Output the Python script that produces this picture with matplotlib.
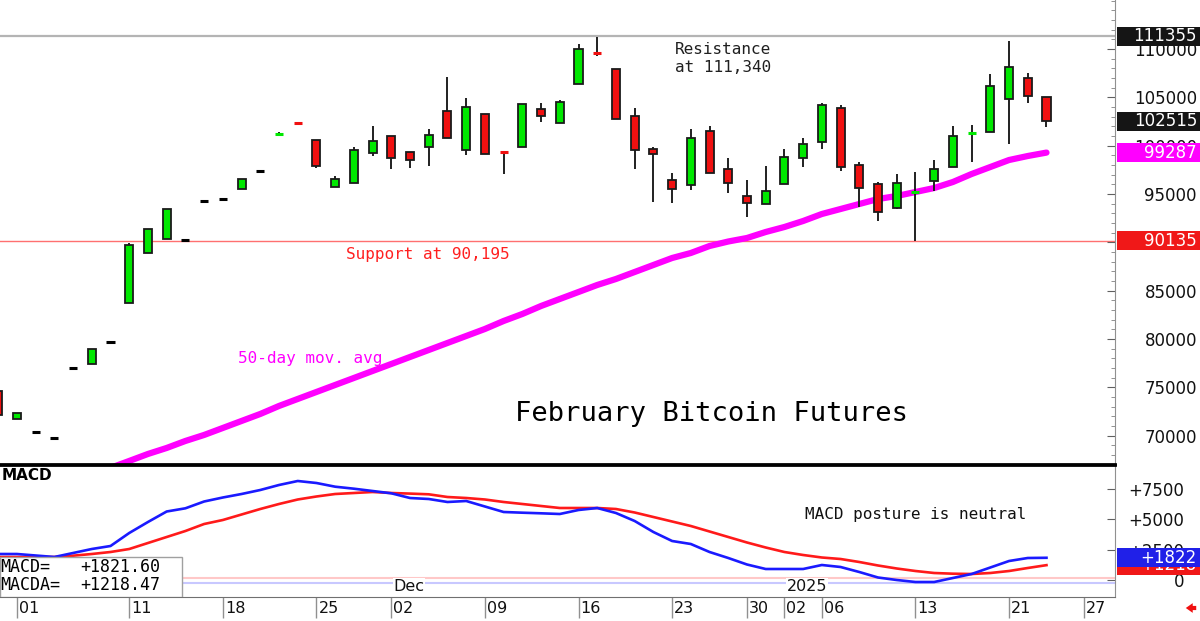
import numpy as np
import matplotlib
matplotlib.use('Agg')
import matplotlib.pyplot as plt
import matplotlib.transforms as mtransforms
from matplotlib.patches import Rectangle
from matplotlib.ticker import MultipleLocator, FuncFormatter, FixedLocator

plt.rcParams['font.family'] = ['DejaVu Sans']
MONO = ['DejaVu Sans Mono']

#------------------------------------------------------------------------------
# daily candles, Feb Bitcoin futures (one per trading day, index 0 = Oct 31)
opens  = [74610, 71680, 70366, 69776, 77022, 77405, 79650, 83749, 88862, 90311,
          90239, 94306, 94482, 95548, 97339, 101150, 102350, 100557, 95755, 96138,
          99243, 100971, 99316, 99895, 103590, 99522, 103249, 99450, 99853, 103797,
          102379, 106415, 109697, 107937, 103042, 99688, 96418, 95962, 101489, 97556,
          94792, 93934, 96066, 98726, 100382, 103900, 98001, 96004, 93582, 95150,
          96376, 97763, 101230, 101448, 104801, 106975, 105008]
highs  = [74610, 72300, 70366, 69776, 77022, 78957, 79650, 89959, 91377, 93447,
          90239, 94306, 94482, 96521, 97339, 101417, 102350, 100557, 96863, 99864,
          102037, 100971, 99316, 101696, 107078, 104936, 103249, 99450, 104367, 104449,
          104698, 110525, 111280, 107937, 103932, 99833, 97204, 101727, 101997, 98694,
          96449, 97898, 99657, 100827, 104449, 104242, 98312, 96273, 97039, 97277,
          98519, 102007, 102172, 107420, 110835, 107492, 105008]
lows   = [72126, 71680, 70366, 69776, 77022, 77405, 79650, 83749, 88862, 90311,
          90239, 94306, 94482, 95548, 97339, 101150, 102280, 97722, 95755, 96138,
          98964, 97587, 97659, 97898, 100826, 99067, 99171, 97039, 99853, 102482,
          102379, 106415, 109314, 102793, 97556, 94140, 94037, 95414, 97204, 95134,
          92650, 93934, 96066, 97825, 99688, 97349, 93685, 92236, 93447, 90166,
          95310, 97763, 98281, 101448, 100206, 104387, 101965]
closes = [72126, 72300, 70366, 69776, 77022, 78957, 79650, 89752, 91377, 93447,
          90239, 94306, 94482, 96521, 97339, 101250, 102280, 97929, 96521, 99522,
          100454, 98726, 98550, 101106, 100826, 103973, 99171, 99171, 104367, 103042,
          104522, 109976, 109490, 102793, 99522, 99171, 95548, 100796, 97204, 96107,
          94099, 95279, 98860, 100143, 104180, 97825, 95652, 93168, 96138, 95210,
          97556, 100971, 101330, 106146, 108113, 105174, 102515]

# 50-day moving average, starts at candle 6
ma_start = 6
ma50 = [66650, 67365, 68089, 68710, 69435, 70056, 70780, 71505, 72229, 73057,
        73782, 74506, 75231, 75955, 76680, 77404, 78129, 78853, 79578, 80302,
        81027, 81855, 82579, 83407, 84132, 84856, 85581, 86202, 86926, 87651,
        88375, 88893, 89617, 90083, 90446, 91067, 91584, 92205, 92930, 93447,
        93965, 94482, 94793, 95207, 95621, 96242, 97070, 97794, 98519, 98933, 99287]

macd = [2132, 2132, 2009, 1886, 2214, 2542, 2788, 3854, 4756, 5617,
        5879, 6437, 6765, 7052, 7380, 7790, 8118, 7954, 7651, 7487,
        7298, 7109, 6724, 6642, 6396, 6478, 6027, 5576, 5519, 5469,
        5412, 5740, 5904, 5494, 4838, 3936, 3198, 2952, 2296, 1804,
        1271, 902, 902, 902, 1230, 1066, 656, 205, 0, -164,
        -164, 164, 492, 1025, 1558, 1804, 1822]
macd_avg = [1886, 1886, 1886, 1886, 1993, 2132, 2296, 2542, 3034, 3526,
            4018, 4592, 4920, 5371, 5822, 6232, 6601, 6847, 7052, 7134,
            7216, 7134, 7085, 7027, 6806, 6724, 6601, 6396, 6232, 6068,
            5904, 5904, 5904, 5822, 5535, 5166, 4797, 4428, 3977, 3526,
            3075, 2665, 2296, 2050, 1845, 1722, 1476, 1189, 943, 738,
            574, 517, 492, 574, 738, 984, 1218]

date_idx = [1, 7, 12, 17, 21, 26, 31, 36, 40, 42, 44, 49, 54, 58]
date_lbl = ['01', '11', '18', '25', '02', '09', '16', '23', '30', '02', '06', '13', '21', '27']
month_idx = [21, 42]
month_lbl = ['Dec', '2025']

resistance = 111355
support = 90135
last_close = 102515
last_ma = 99287
macd_last = 1821.60
avg_last = 1218.47

#------------------------------------------------------------------------------
W, H = 1200, 621
fig = plt.figure(figsize=(W / 100, H / 100), dpi=100)
ax = fig.add_axes([0, 1 - 464 / H, 1115 / W, 464 / H])
ax2 = fig.add_axes([0, 1 - 597 / H, 1115 / W, 132 / H])

xlim = (0.096, 59.66)
ax.set_xlim(*xlim)
ax.set_ylim(67050, 115083)
ax2.set_xlim(*xlim)
ax2.set_ylim(-1394, 9430)

GREEN, RED = '#00e800', '#f01010'
bw = 0.43
for i, (o, h, l, c) in enumerate(zip(opens, highs, lows, closes)):
    col = 'black' if c == o else (GREEN if c > o else RED)
    if h > max(o, c) or l < min(o, c):
        ax.vlines(i, l, h, color='#202020', lw=1.4, zorder=2)
    if abs(c - o) < 300:
        ax.hlines((o + c) / 2, i - bw / 2, i + bw / 2, color=col, lw=2.2, zorder=3)
    else:
        ax.add_patch(Rectangle((i - bw / 2, min(o, c)), bw, abs(c - o), fc=col,
                               ec='#1a1a1a', lw=1.3, zorder=3))

ax.plot(np.arange(ma_start, ma_start + len(ma50)), ma50, color='#ff00ff', lw=4.5,
        solid_capstyle='round', zorder=1.5)
ax.axhline(resistance, color='#b4b4b4', lw=1.6, zorder=1)
ax.axhline(support, color='#ff7070', lw=1.0, zorder=1)

ax.text(675 / 1115, 1 - 50 / 464, 'Resistance', transform=ax.transAxes, family=MONO,
        fontsize=11.5, color='#202020', va='center')
ax.text(675 / 1115, 1 - 67 / 464, 'at 111,340', transform=ax.transAxes, family=MONO,
        fontsize=11.5, color='#202020', va='center')
ax.text(346 / 1115, 1 - 255 / 464, 'Support at 90,195', transform=ax.transAxes,
        family=MONO, fontsize=11.5, color='#ff2020', va='center')
ax.text(238 / 1115, 1 - 359 / 464, '50-day mov. avg', transform=ax.transAxes,
        family=MONO, fontsize=11.5, color='#ff00ff', va='center')
ax.text(515 / 1115, 1 - 414 / 464, 'February Bitcoin Futures', transform=ax.transAxes,
        family=MONO, fontsize=19.5, color='black', va='center')

# price axis on the right
ax.yaxis.tick_right()
ax.yaxis.set_major_locator(FixedLocator(np.arange(70000, 110001, 5000)))
ax.yaxis.set_minor_locator(MultipleLocator(1000))
ax.tick_params(axis='y', which='major', direction='in', length=6, color='#606060',
               labelsize=12, pad=59, labelcolor='#111111')
ax.tick_params(axis='y', which='minor', direction='in', length=3, color='#808080')
for t in ax.get_yticklabels():
    t.set_horizontalalignment('right')
ax.set_xticks([])
for s in ['top', 'left']:
    ax.spines[s].set_visible(False)
ax.spines['right'].set_color('#909090')
ax.spines['bottom'].set_color('black')
ax.spines['bottom'].set_linewidth(2)

# MACD panel
xi = np.arange(len(macd))
ax2.axhline(139, color='#ffc8c8', lw=1.5, zorder=1)
ax2.axhline(-271, color='#c8c8ff', lw=1.5, zorder=1)
ax2.plot(xi, macd_avg, color='#ff1a1a', lw=1.9, zorder=3)
ax2.plot(xi, macd, color='#1a1aff', lw=1.9, zorder=4)

ax2.yaxis.tick_right()
ax2.set_yticks([0, 2500, 5000, 7500])
ax2.yaxis.set_major_formatter(FuncFormatter(lambda v, p: '0' if v == 0 else '%+d' % v))
ax2.tick_params(axis='y', direction='in', length=6, color='#606060', labelsize=12,
                pad=50, labelcolor='#111111')
for t in ax2.get_yticklabels():
    t.set_horizontalalignment('right')
ax2.set_xticks(date_idx)
ax2.tick_params(axis='x', direction='out', length=15, color='#909090', width=1,
                labelbottom=False)
for p, lab in zip(date_idx, date_lbl):
    ax2.annotate(lab, xy=(p, 0), xycoords=('data', 'axes fraction'), xytext=(1.5, -8),
                 textcoords='offset points', ha='left', va='center', fontsize=11.5,
                 color='#111111', annotation_clip=False)
for p, lab in zip(month_idx, month_lbl):
    ax2.annotate(lab, xy=(p, 0), xycoords=('data', 'axes fraction'), xytext=(1.5, 7.5),
                 textcoords='offset points', ha='left', va='center', fontsize=11.5,
                 color='#111111', zorder=5,
                 bbox=dict(fc='white', ec='none', pad=0.5))
ax2.spines['left'].set_visible(False)
ax2.spines['top'].set_color('black')
ax2.spines['top'].set_linewidth(2)
ax2.spines['right'].set_color('#909090')
ax2.spines['bottom'].set_color('#707070')

ax2.text(2 / 1115, (597 - 476) / 132, 'MACD', transform=ax2.transAxes, fontsize=11,
         fontweight='bold', va='center')
ax2.text(805 / 1115, (597 - 515) / 132, 'MACD posture is neutral', transform=ax2.transAxes,
         family=MONO, fontsize=11.5, va='center', color='#111111')
ax2.add_patch(Rectangle((0, 0), 182 / 1115, 40 / 132, transform=ax2.transAxes,
                        fc='white', ec='#a0a0a0', lw=1, zorder=6))
ax2.text(0.5 / 1115, (597 - 567) / 132, 'MACD=', transform=ax2.transAxes, family=MONO,
         fontsize=12, va='center', zorder=7)
ax2.text(0.5 / 1115, (597 - 585) / 132, 'MACDA=', transform=ax2.transAxes, family=MONO,
         fontsize=12, va='center', zorder=7)
ax2.text(80 / 1115, (597 - 567) / 132, '%+.2f' % macd_last, transform=ax2.transAxes,
         family=MONO, fontsize=12, va='center', zorder=7)
ax2.text(80 / 1115, (597 - 585) / 132, '%+.2f' % avg_last, transform=ax2.transAxes,
         family=MONO, fontsize=12, va='center', zorder=7)


# value boxes on the right scale, later boxes sit on top of earlier ones
def value_box(axis, value, text, fc, z):
    trans = mtransforms.blended_transform_factory(fig.transFigure, axis.transData)
    y0, y1 = axis.get_ylim()
    h = 19 * (y1 - y0) / (axis.get_position().height * H)
    fig.add_artist(Rectangle((1117 / W, value - h / 2), 83 / W, h, transform=trans,
                             fc=fc, ec='none', zorder=z, clip_on=False))
    fig.text(1197 / W, value, text, transform=trans, ha='right', va='center',
             color='white', fontsize=12, zorder=z + 0.5)


value_box(ax, resistance, '%d' % resistance, '#151515', 5)
value_box(ax, last_close, '%d' % last_close, '#151515', 6)
value_box(ax, last_ma, '%d' % last_ma, '#ff00ff', 7)
value_box(ax, support, '%d' % support, '#f01818', 8)
value_box(ax2, avg_last, '%+d' % round(avg_last), '#f01818', 9)
value_box(ax2, macd_last, '%+d' % round(macd_last), '#2020e8', 10)

ax2.annotate('', xy=(1183 / W, 1 - 608 / H), xytext=(1199 / W, 1 - 608 / H),
             xycoords='figure fraction',
             arrowprops=dict(arrowstyle='simple,head_width=0.7,head_length=0.5,tail_width=0.3',
                             color='#f01010', lw=0))

fig.savefig('out.png', dpi=100)
